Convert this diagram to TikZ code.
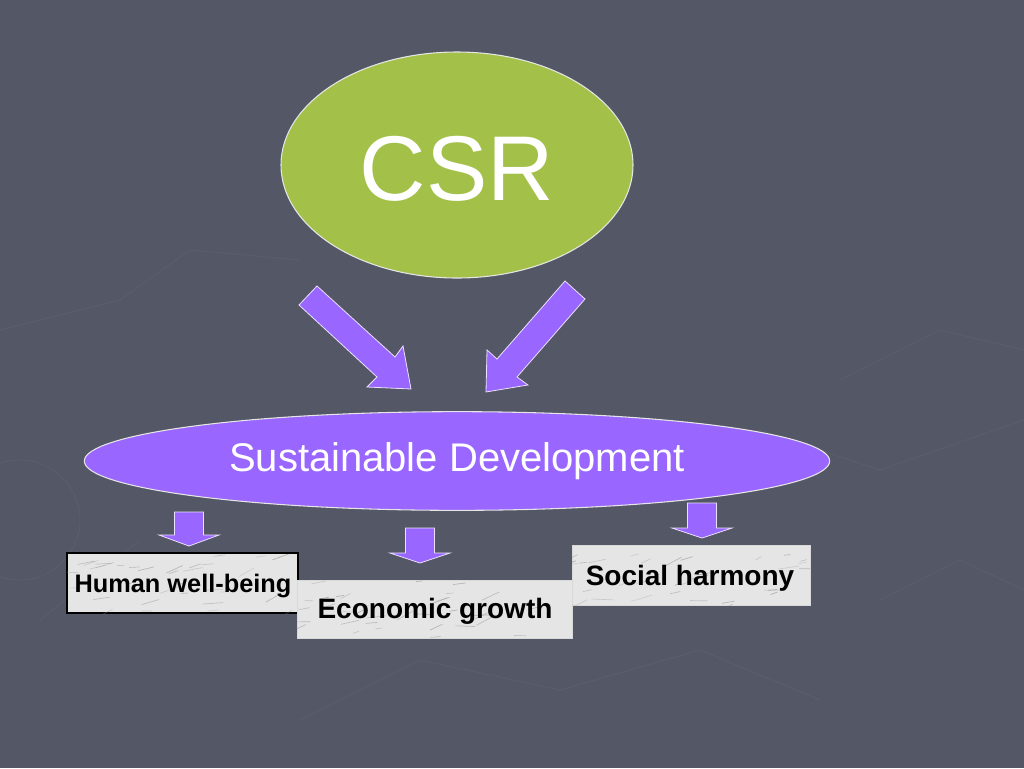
\documentclass[tikz,border=0pt]{standalone}
\usepackage{fontspec}
\setmainfont{Liberation Sans}
\usetikzlibrary{shapes.geometric}
\definecolor{bg}{RGB}{84,87,102}
\definecolor{bgline}{RGB}{91,94,109}
\definecolor{csrgreen}{RGB}{163,193,72}
\definecolor{sdpurple}{RGB}{153,102,255}
\definecolor{marble}{RGB}{229,229,229}
\newcommand\dnarr[4]{%
  \draw[blk] (#1-14.5,#2) -- (#1+14.5,#2) -- (#1+14.5,#3) -- (#1+30,#3) -- (#1,#4)
    -- (#1-30,#3) -- (#1-14.5,#3) -- cycle;}
\newcommand\marbletex[4]{%
  \begin{scope}
    \clip (#1,#2) rectangle (#3,#4);
    \foreach \k in {1,...,34}{%
      \pgfmathsetmacro\uu{rnd}\pgfmathsetmacro\vv{rnd}%
      \pgfmathsetmacro\ll{6+16*rnd}\pgfmathsetmacro\aa{150+35*rnd}%
      \pgfmathsetmacro\gg{35+35*rnd}%
      \draw[black!\gg, opacity=.35, line width=.5pt, line cap=round]
        (#1+\uu*#3-\uu*#1, #2+\vv*#4-\vv*#2) -- ++(\aa:\ll);
    }
  \end{scope}}
\begin{document}
\begin{tikzpicture}[x=0.75pt,y=-0.75pt,
  oval/.style={ellipse, inner sep=0pt, draw=white!90!black, line width=0.8pt, text=white},
  blk/.style={fill=sdpurple, draw=white!80!sdpurple, line width=0.6pt, line join=miter},
  box/.style={rectangle, inner sep=0pt, fill=marble, text=black, text depth=0pt}]
\fill[bg] (0,0) rectangle (1024,768);
\useasboundingbox (0,0) rectangle (1024,768);
\pgfmathsetseed{11}
% faint background texture
\begin{scope}[bgline, line width=0.6pt]
  \draw (0,330) -- (120,300) -- (190,250) -- (300,260);
  \draw (610,470) -- (760,430) -- (880,470) -- (1024,420);
  \draw (840,380) -- (940,330) -- (1024,350);
  \draw (300,720) -- (420,660) -- (560,690) -- (700,650) -- (820,700);
  \draw (880,600) -- (960,560) -- (1024,590);
  \draw (20,520) circle (60);
  \draw (40,620) -- (140,540);
\end{scope}
% CSR ellipse
\node[oval, fill=csrgreen, minimum width=264pt, minimum height=169.5pt] (csr) at (457,165) {};
\node[text=white, inner sep=0pt, font=\fontsize{69}{69}\selectfont] (csrtext) at (457,169) {CSR};
% big arrows
\draw[blk] (299,305) -- (317,286) -- (395,357) -- (403,346) -- (411,389) -- (367,387) -- (377,377) -- cycle;
\draw[blk] (565,281) -- (585,299) -- (517,377) -- (528,385) -- (486,392) -- (487,350) -- (497,359) -- cycle;
% Sustainable Development ellipse
\node[oval, fill=sdpurple, minimum width=559pt, minimum height=74pt,
  font=\fontsize{30}{30}\selectfont] (sd) at (457,461) {Sustainable Development};
% small arrows
\dnarr{189}{512}{535}{546}
\dnarr{420}{528}{553}{563}
\dnarr{702}{503}{528}{538}
% boxes
\node[box, draw=black, line width=0.8pt, minimum width=173.25pt, minimum height=45pt] (hwb) at (182.5,583) {};
\marbletex{67}{553}{298}{613}
\node[inner sep=0pt, text height=13.6pt, text depth=0pt, font=\fontsize{19}{19}\selectfont\bfseries] (hwbt) at (183,583) {Human well-being};
\node[box, draw=white!85!black, line width=0.6pt, minimum width=206.25pt, minimum height=43.5pt] (eg) at (434.5,609) {};
\marbletex{297}{580}{572}{638}
\node[inner sep=0pt, text height=15pt, text depth=0pt, font=\fontsize{21}{21}\selectfont\bfseries] (egt) at (435,608) {Economic growth};
\node[box, draw=white!85!black, line width=0.6pt, minimum width=178.5pt, minimum height=45pt] (sh) at (691,575) {};
\marbletex{572}{545}{810}{605}
\node[inner sep=0pt, text height=15pt, text depth=0pt, font=\fontsize{21}{21}\selectfont\bfseries] (sht) at (690,575) {Social harmony};
\end{tikzpicture}
\end{document}
